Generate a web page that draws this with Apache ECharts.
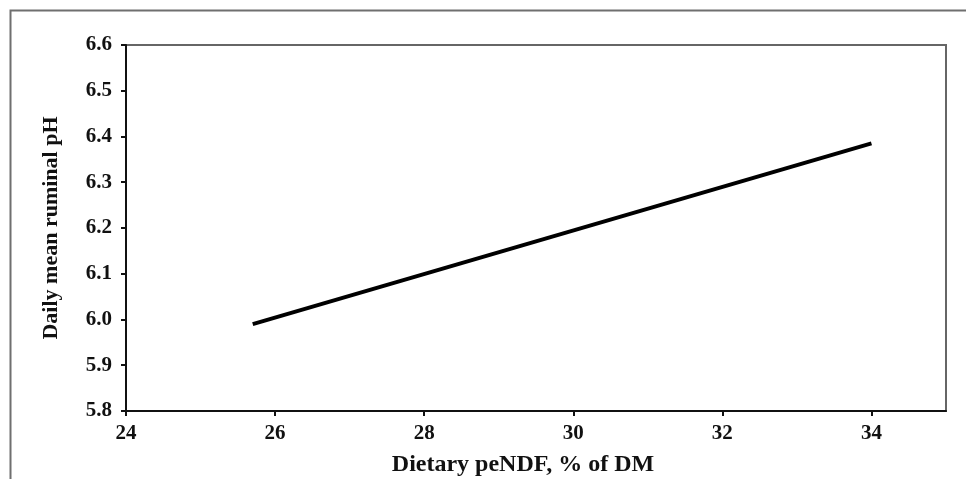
<!DOCTYPE html>
<html>
<head>
<meta charset="utf-8">
<script src="https://cdn.jsdelivr.net/npm/echarts@6/dist/echarts.min.js"></script>
<style>
html,body{margin:0;padding:0;background:#fff;}
#chart{width:966px;height:479px;}
</style>
</head>
<body>
<div id="chart"></div>
<script>
// Data
var xTicks = [24, 26, 28, 30, 32, 34];
var yTicks = [5.8, 5.9, 6.0, 6.1, 6.2, 6.3, 6.4, 6.5, 6.6];
var peNDF = [25.7, 34.0];
var rumenPH = [5.99, 6.385];
var xTitle = 'Dietary peNDF, % of DM';
var yTitle = 'Daily mean ruminal pH';

var lineData = peNDF.map(function (x, i) { return [x, rumenPH[i]]; });
var font = 'Liberation Serif';

var chart = echarts.init(document.getElementById('chart'));
chart.setOption({
  animation: false,
  backgroundColor: '#fff',
  graphic: [{
    type: 'rect',
    left: 8, top: 8,
    shape: { width: 1000, height: 520 },
    style: { fill: 'none', stroke: '#6f6f6f', lineWidth: 2 },
    silent: true
  }],
  grid: {
    left: 126, right: 20, top: 45, bottom: 68,
    outerBoundsMode: 'none',
    containLabel: false,
    show: true, borderColor: '#666', borderWidth: 2
  },
  xAxis: {
    type: 'value',
    min: 24, max: 35, interval: 2,
    name: xTitle,
    nameLocation: 'middle',
    nameGap: 42,
    nameTextStyle: { fontFamily: font, fontWeight: 'bold', fontSize: 24, color: '#111', padding: [0, 26, 0, 0] },
    axisLine: { show: true, lineStyle: { color: '#111', width: 2 } },
    axisTick: { show: true, inside: false, length: 5, customValues: xTicks, lineStyle: { color: '#111', width: 2 } },
    axisLabel: { customValues: xTicks, margin: 12, fontFamily: font, fontWeight: 'bold', fontSize: 21, color: '#111' },
    splitLine: { show: false }
  },
  yAxis: {
    type: 'value',
    min: 5.8, max: 6.6, interval: 0.1,
    name: yTitle,
    nameLocation: 'middle',
    nameGap: 64,
    nameRotate: 90,
    nameTextStyle: { fontFamily: font, fontWeight: 'bold', fontSize: 22, color: '#111' },
    axisLine: { show: true, lineStyle: { color: '#111', width: 2 } },
    axisTick: { show: true, inside: false, length: 5, customValues: yTicks, lineStyle: { color: '#111', width: 2 } },
    axisLabel: {
      customValues: yTicks,
      margin: 14, fontFamily: font, fontWeight: 'bold', fontSize: 21, color: '#111',
      formatter: function (v) { return Number(v).toFixed(1); }
    },
    splitLine: { show: false }
  },
  series: [{
    type: 'line',
    data: lineData,
    showSymbol: false,
    symbol: 'none',
    lineStyle: { color: '#000', width: 4 }
  }]
});
</script>
</body>
</html>
